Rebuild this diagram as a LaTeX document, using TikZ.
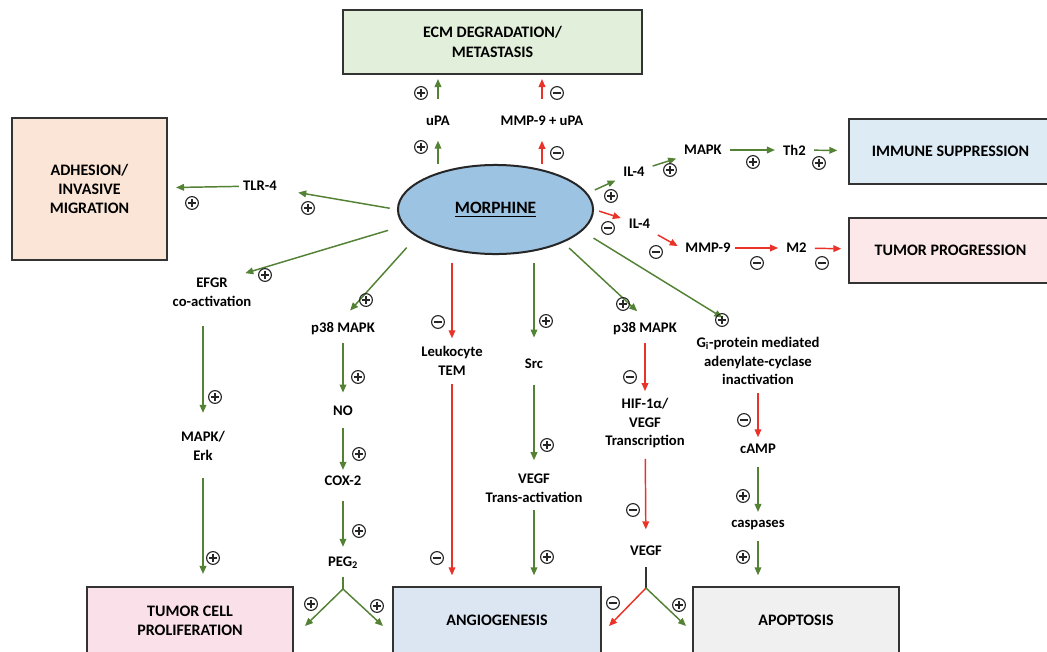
\documentclass[tikz,border=0pt]{standalone}
\usepackage{fontspec}
\setmainfont{Carlito}
\usetikzlibrary{arrows.meta,shapes.geometric}

\definecolor{arrgreen}{RGB}{84,130,53}
\definecolor{arrred}{RGB}{233,50,40}
\definecolor{ecmfill}{RGB}{226,239,218}
\definecolor{adhfill}{RGB}{251,229,214}
\definecolor{immfill}{RGB}{221,236,244}
\definecolor{progfill}{RGB}{252,232,232}
\definecolor{prolfill}{RGB}{250,224,232}
\definecolor{angfill}{RGB}{220,230,242}
\definecolor{apofill}{RGB}{240,240,240}
\definecolor{morphfill}{RGB}{157,195,227}

\tikzset{
  lbl/.style={font=\fontsize{11}{14}\selectfont\bfseries, inner sep=3pt, align=center, text=black},
  outbox/.style={draw=black!80, line width=1.5pt, font=\fontsize{12}{14.5}\selectfont\bfseries, align=center, inner sep=0pt, text=black},
  garr/.style={draw=arrgreen, line width=1.1pt, -{Triangle[length=6pt,width=5pt]}, shorten <=3pt, shorten >=3pt},
  rarr/.style={garr, draw=arrred},
  gline/.style={draw=arrgreen, line width=1.1pt, shorten <=3pt},
  kline/.style={draw=black!80, line width=1.1pt, shorten <=3pt},
  sgn/.style={circle, draw=black!85, line width=0.85pt, minimum size=9.6pt, inner sep=0pt},
  sgnplus/.style={sgn, path picture={
      \draw[line width=0.85pt] ([xshift=-2.7pt]path picture bounding box.center) -- ([xshift=2.7pt]path picture bounding box.center)
        ([yshift=-2.7pt]path picture bounding box.center) -- ([yshift=2.7pt]path picture bounding box.center);}},
  sgnminus/.style={sgn, path picture={
      \draw[line width=0.85pt] ([xshift=-2.7pt]path picture bounding box.center) -- ([xshift=2.7pt]path picture bounding box.center);}}
}

\begin{document}
\begin{tikzpicture}[x=0.75pt, y=-0.75pt]
  \path[use as bounding box, fill=white] (0,0) rectangle (1047,651);

  % outcome boxes
  \node[outbox, fill=ecmfill, minimum width=224.3pt, minimum height=48pt] (ecm) at (492.5,42) {ECM DEGRADATION/\\METASTASIS};
  \node[outbox, fill=adhfill, minimum width=116.3pt, minimum height=106.5pt] (adh) at (89.5,189) {ADHESION/\\INVASIVE\\MIGRATION};
  \node[outbox, fill=immfill, minimum width=152.3pt, minimum height=48.8pt] (imm) at (950.5,151.5) {IMMUNE SUPPRESSION};
  \node[outbox, fill=progfill, minimum width=152.3pt, minimum height=48.8pt] (prog) at (950.5,250.5) {TUMOR PROGRESSION};
  \node[outbox, fill=prolfill, minimum width=154.5pt, minimum height=50.3pt] (prolif) at (190,620.5) {TUMOR CELL\\PROLIFERATION};
  \node[outbox, fill=angfill, minimum width=156pt, minimum height=50.3pt] (angio) at (497,620.5) {ANGIOGENESIS};
  \node[outbox, fill=apofill, minimum width=154.5pt, minimum height=50.3pt] (apop) at (796,620.5) {APOPTOSIS};

  % morphine
  \node[ellipse, draw=black!85, line width=1.5pt, fill=morphfill, minimum width=146.3pt, minimum height=66.8pt,
        font=\fontsize{13}{15}\selectfont\bfseries] (morph) at (495.5,209.5) {\underline{MORPHINE}};

  % intermediates
  \node[lbl] (upa) at (438,121) {uPA};
  \node[lbl] (mmpupa) at (542,121) {MMP-9 + uPA};
  \node[lbl] (tlr) at (260,186) {TLR-4};
  \node[lbl] (efgr) at (212,292) {EFGR\\co-activation};
  \node[lbl] (mapk) at (203,446) {MAPK/\\Erk};
  \node[lbl] (p38l) at (343,329) {p38 MAPK};
  \node[lbl] (no) at (343,411) {NO};
  \node[lbl] (cox) at (343,481) {COX-2};
  \node[lbl] (peg) at (343,563) {PEG\textsubscript{2}};
  \node[lbl] (leuk) at (452,361) {Leukocyte\\TEM};
  \node[lbl] (src) at (534,364) {Src};
  \node[lbl] (vegft) at (534,488) {VEGF\\Trans-activation};
  \node[lbl] (p38r) at (645,329) {p38 MAPK};
  \node[lbl] (hif) at (645,423) {HIF-1α/\\VEGF\\Transcription};
  \node[lbl] (vegf) at (646,551) {VEGF};
  \node[lbl] (gi) at (758,361) {G\textsubscript{i}-protein mediated\\adenylate-cyclase\\inactivation};
  \node[lbl] (camp) at (758,449) {cAMP};
  \node[lbl] (casp) at (758,525) {caspases};
  \node[lbl] (ilg) at (634,172) {IL-4};
  \node[lbl] (mapkr) at (703,150) {MAPK};
  \node[lbl] (th2) at (794.5,150) {Th2};
  \node[lbl] (ilr) at (639.5,224) {IL-4};
  \node[lbl] (mmp) at (708,248) {MMP-9};
  \node[lbl] (m2) at (796.5,248) {M2};

  \coordinate (pegj) at (343,589);
  \coordinate (pegl) at (305,626);
  \coordinate (pegr) at (383,626);
  \coordinate (vegfj) at (646,588);
  \coordinate (vegfl) at (609,626);
  \coordinate (vegfr) at (686,626);

  % top
  \draw[garr, shorten <=0pt, shorten >=8pt] (upa |- morph.north) -- (upa);
  \draw[garr, shorten <=10pt] (upa) -- (upa |- ecm.south);
  \draw[rarr, shorten <=0pt, shorten >=8pt] (mmpupa |- morph.north) -- (mmpupa);
  \draw[rarr, shorten <=10pt] (mmpupa) -- (mmpupa |- ecm.south);

  % left
  \draw[garr, shorten <=5.5pt, shorten >=13pt] (morph.west) -- (tlr);
  \draw[garr, shorten <=0pt, shorten >=6pt] (tlr) -- (adh);
  \draw[garr, shorten <=12pt, shorten >=1pt] (morph.190) -- ([xshift=24pt]efgr.north);
  \draw[garr, shorten <=11pt, shorten >=8pt] (morph.199) -- (p38l.north);
  \draw[garr, shorten <=11.5pt, shorten >=10.8pt] (efgr.south -| mapk) -- (mapk);
  \draw[garr, shorten <=10pt, shorten >=9pt] (mapk) -- (mapk |- prolif.north);
  \draw[garr, shorten >=7pt] (p38l) -- (no);
  \draw[garr, shorten <=5.6pt, shorten >=1.5pt] (no) -- (cox);
  \draw[garr, shorten <=8pt, shorten >=4.5pt] (cox) -- (peg);
  \draw[gline] (peg) -- (pegj);
  \draw[garr, shorten <=0pt, shorten >=0pt] (pegj) -- (pegl);
  \draw[garr, shorten <=0pt, shorten >=0pt] (pegj) -- (pegr);

  % centre
  \draw[rarr, shorten <=6pt] (leuk |- morph.south) -- (leuk);
  \draw[rarr, shorten >=8pt] (leuk) -- (leuk |- angio.north);
  \draw[garr, shorten <=6pt, shorten >=13pt] (src |- morph.south) -- (src);
  \draw[garr, shorten <=9pt, shorten >=7pt] (src) -- (vegft);
  \draw[garr, shorten >=8pt] (vegft) -- (vegft |- angio.north);

  % right columns
  \draw[garr, shorten <=6pt, shorten >=8pt] (morph.-26) -- (p38r.north);
  \draw[rarr, shorten >=2pt] (p38r) -- (hif);
  \draw[rarr, shorten <=5pt, shorten >=9.4pt] (hif) -- (vegf);
  \draw[kline, shorten <=5.5pt] (vegf) -- (vegfj);
  \draw[rarr, shorten <=0pt, shorten >=0pt] (vegfj) -- (vegfl);
  \draw[garr, shorten <=0pt, shorten >=0pt] (vegfj) -- (vegfr);
  \draw[garr, shorten <=10pt, shorten >=22pt] (morph.-14) -- ([xshift=-8pt]gi.north);
  \draw[rarr, shorten >=2pt] (gi) -- (camp);
  \draw[garr, shorten <=6.4pt] (camp) -- (casp);
  \draw[garr, shorten <=5.3pt, shorten >=8pt] (casp) -- (casp |- apop.north);

  % right rows
  \draw[garr, shorten <=6pt] (morph.10) -- (ilg);
  \draw[garr] (ilg) -- (mapkr);
  \draw[garr] (mapkr) -- (th2);
  \draw[garr, shorten >=8pt] (th2) -- (imm);
  \draw[rarr, shorten <=4pt] (morph.east) -- (ilr);
  \draw[rarr] (ilr.south east) -- (mmp.west);
  \draw[rarr, shorten <=0pt] (mmp) -- (m2);
  \draw[rarr, shorten >=5pt] (m2) -- (prog);

  % signs
  \node[sgnplus] (pl1) at (421,93) {};
  \node[sgnplus] (pl2) at (421,147) {};
  \node[sgnplus] (pl3) at (192,203) {};
  \node[sgnplus] (pl4) at (308,208) {};
  \node[sgnplus] (pl5) at (265,275) {};
  \node[sgnplus] (pl6) at (366,300) {};
  \node[sgnplus] (pl7) at (358,377) {};
  \node[sgnplus] (pl8) at (359,454) {};
  \node[sgnplus] (pl9) at (359,531) {};
  \node[sgnplus] (pl10) at (215,397) {};
  \node[sgnplus] (pl11) at (213,558) {};
  \node[sgnplus] (pl12) at (311,604) {};
  \node[sgnplus] (pl13) at (377,606) {};
  \node[sgnplus] (pl14) at (546,321) {};
  \node[sgnplus] (pl15) at (547,445) {};
  \node[sgnplus] (pl16) at (547,557) {};
  \node[sgnplus] (pl17) at (623,304) {};
  \node[sgnplus] (pl18) at (722,320) {};
  \node[sgnplus] (pl19) at (743,496) {};
  \node[sgnplus] (pl20) at (743,557) {};
  \node[sgnplus] (pl21) at (679,605) {};
  \node[sgnplus] (pl22) at (611,196) {};
  \node[sgnplus] (pl23) at (670,170) {};
  \node[sgnplus] (pl24) at (753,162) {};
  \node[sgnplus] (pl25) at (819,163) {};
  \node[sgnminus] (mi1) at (557,93) {};
  \node[sgnminus] (mi2) at (557,153) {};
  \node[sgnminus] (mi3) at (438,322) {};
  \node[sgnminus] (mi4) at (437,558) {};
  \node[sgnminus] (mi5) at (630,377) {};
  \node[sgnminus] (mi6) at (633,510) {};
  \node[sgnminus] (mi7) at (613,603) {};
  \node[sgnminus] (mi8) at (744,420) {};
  \node[sgnminus] (mi9) at (608,228) {};
  \node[sgnminus] (mi10) at (656,252) {};
  \node[sgnminus] (mi11) at (757,263) {};
  \node[sgnminus] (mi12) at (822,263) {};
\end{tikzpicture}
\end{document}
